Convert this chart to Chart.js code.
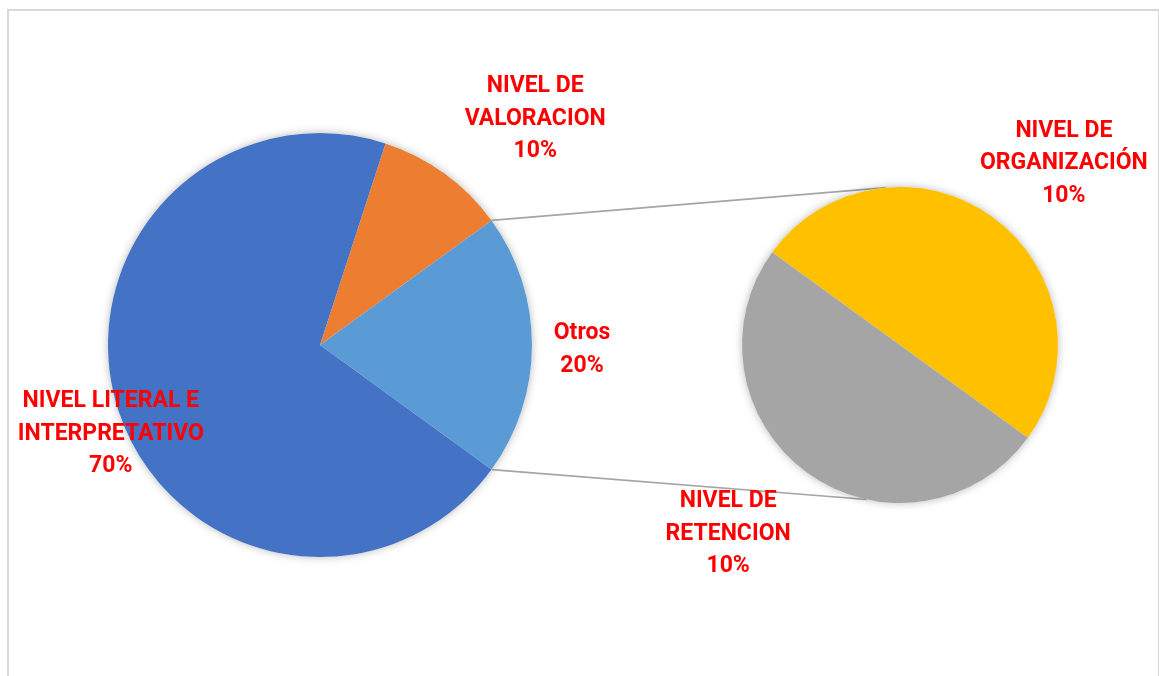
<!DOCTYPE html>
<html>
<head>
<meta charset="utf-8">
<script src="https://cdn.jsdelivr.net/npm/chart.js@4.4.1/dist/chart.umd.min.js"></script>
<style>
  html, body { margin: 0; padding: 0; background: #fff; overflow: hidden; }
  #wrap { position: relative; width: 1159px; height: 676px; }
  #frame { position: absolute; left: 7px; top: 9px; width: 1149px; height: 700px; border: 2px solid #d9d9d9; }
  canvas { position: absolute; left: 0; top: 0; }
</style>
</head>
<body>
<div id="wrap">
  <div id="frame"></div>
  <canvas id="mainPie" width="1159" height="676"></canvas>
  <canvas id="subPie" width="1159" height="676"></canvas>
</div>
<script>
// datos del grafico principal
const mainLabels = [['NIVEL DE', 'VALORACION'], ['Otros'], ['NIVEL LITERAL E', 'INTERPRETATIVO']];
const mainValues = [10, 20, 70];
const mainColors = ['#ED7D31', '#5B9BD5', '#4472C4'];

// desglose de "Otros"
const subLabels = [['NIVEL DE', 'ORGANIZACIÓN'], ['NIVEL DE', 'RETENCION']];
const subValues = [10, 10];
const subColors = ['#FFC000', '#A5A5A5'];

const total = mainValues.reduce((a, b) => a + b, 0);

// sombra suave detras de cada pastel
const shadowPlugin = {
  id: 'pieShadow',
  beforeDatasetsDraw(chart) {
    const arc = chart.getDatasetMeta(0).data[0];
    const ctx = chart.ctx;
    ctx.save();
    ctx.shadowColor = 'rgba(0,0,0,0.28)';
    ctx.shadowBlur = 9;
    ctx.fillStyle = '#fff';
    ctx.beginPath();
    ctx.arc(arc.x, arc.y, arc.outerRadius, 0, Math.PI * 2);
    ctx.fill();
    ctx.restore();
  }
};

// etiquetas de porcentaje (posicion relativa a cada porcion)
function labelPlugin(lines, values, place) {
  return {
    id: 'sliceLabels',
    afterDatasetsDraw(chart) {
      const meta = chart.getDatasetMeta(0);
      const ctx = chart.ctx;
      ctx.save();
      ctx.fillStyle = '#FF0000';
      ctx.font = 'bold 23px Roboto';
      ctx.textAlign = 'center';
      ctx.textBaseline = 'alphabetic';
      meta.data.forEach((arc, i) => {
        const p = place[i];
        const mid = (arc.startAngle + arc.endAngle) / 2 + p.turn * Math.PI / 180;
        const cx = arc.x + Math.cos(mid) * arc.outerRadius * p.reach;
        const cy = arc.y + Math.sin(mid) * arc.outerRadius * p.reach;
        const txt = lines[i].concat([Math.round(values[i] / total * 100) + '%']);
        const lh = 32.5;
        txt.forEach((t, k) => {
          ctx.fillText(t, cx, cy + (k - (txt.length - 1) / 2) * lh + 8);
        });
      });
      ctx.restore();
    }
  };
}

const mainChart = new Chart(document.getElementById('mainPie'), {
  type: 'pie',
  data: {
    labels: mainLabels,
    datasets: [{ data: mainValues, backgroundColor: mainColors, borderWidth: 0 }]
  },
  options: {
    responsive: false,
    animation: false,
    rotation: 18,
    layout: { padding: { left: 108, right: 627, top: 133, bottom: 119 } },
    plugins: { legend: { display: false }, tooltip: { enabled: false } }
  },
  plugins: [shadowPlugin, labelPlugin(mainLabels, mainValues, [
    { turn: 7.3, reach: 1.48 },
    { turn: 0.5, reach: 1.236 },
    { turn: -4.5, reach: 1.068 }
  ])]
});

// lineas que unen "Otros" con el segundo pastel
const connectorPlugin = {
  id: 'connectors',
  beforeDatasetsDraw(chart) {
    const src = mainChart.getDatasetMeta(0).data[1];
    const dst = chart.getDatasetMeta(0).data[0];
    const ends = [-95, 102].map(d => d * Math.PI / 180);
    const starts = [src.startAngle, src.endAngle];
    const ctx = chart.ctx;
    ctx.save();
    ctx.strokeStyle = '#A5A5A5';
    ctx.lineWidth = 1.6;
    for (let k = 0; k < 2; k++) {
      ctx.beginPath();
      ctx.moveTo(src.x + Math.cos(starts[k]) * src.outerRadius, src.y + Math.sin(starts[k]) * src.outerRadius);
      ctx.lineTo(dst.x + Math.cos(ends[k]) * dst.outerRadius, dst.y + Math.sin(ends[k]) * dst.outerRadius);
      ctx.stroke();
    }
    ctx.restore();
  }
};

new Chart(document.getElementById('subPie'), {
  type: 'pie',
  data: {
    labels: subLabels,
    datasets: [{ data: subValues, backgroundColor: subColors, borderWidth: 0 }]
  },
  options: {
    responsive: false,
    animation: false,
    rotation: -54,
    layout: { padding: { left: 742, right: 101, top: 187, bottom: 173 } },
    plugins: { legend: { display: false }, tooltip: { enabled: false } }
  },
  plugins: [connectorPlugin, shadowPlugin, labelPlugin(subLabels, subValues, [
    { turn: 5.7, reach: 1.559 },
    { turn: 6.6, reach: 1.607 }
  ])]
});
</script>
</body>
</html>
